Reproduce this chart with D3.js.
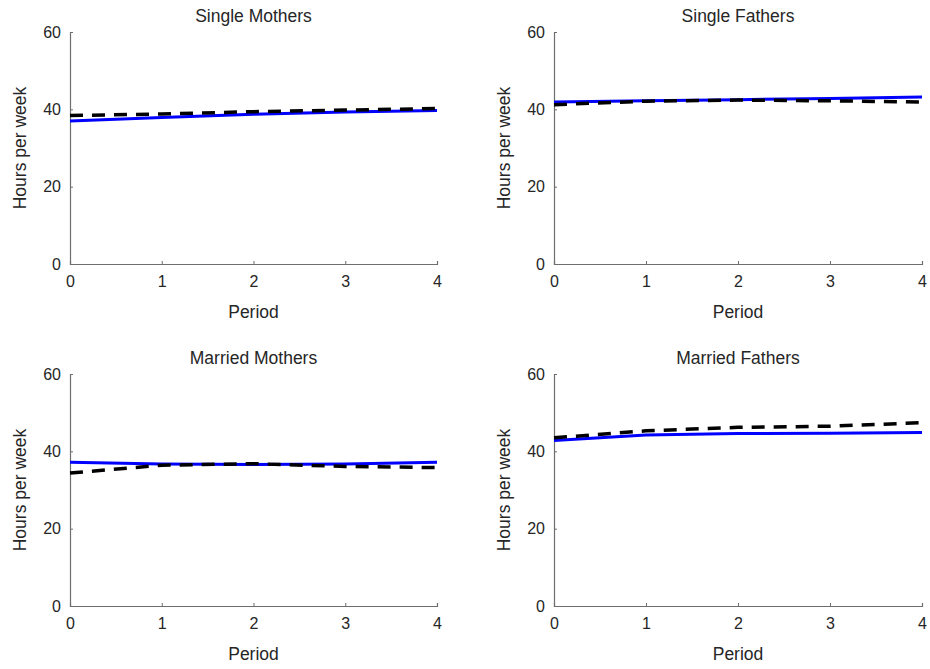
<!DOCTYPE html>
<html>
<head>
<meta charset="utf-8">
<script src="https://cdn.jsdelivr.net/npm/d3@7"></script>
<style>
  body { margin: 0; background: #fff; }
  text { font-family: "Liberation Sans", Arial, sans-serif; fill: #262626; }
</style>
</head>
<body>
<div id="chart"></div>
<script>
// Chart setup
const width = 930;
const height = 669;

// Data
const periods = [0, 1, 2, 3, 4];
const titles = ["Single Mothers", "Single Fathers", "Married Mothers", "Married Fathers"];
const blueSeries = [
  [37.0, 37.9, 38.7, 39.3, 39.7],
  [41.9, 42.2, 42.5, 42.8, 43.2],
  [37.2, 36.7, 36.6, 36.7, 37.2],
  [42.8, 44.2, 44.6, 44.7, 44.9]
];
const blackSeries = [
  [38.4, 38.8, 39.4, 39.8, 40.2],
  [41.2, 42.1, 42.4, 42.2, 41.9],
  [34.4, 36.4, 36.8, 36.1, 35.8],
  [43.5, 45.3, 46.2, 46.5, 47.4]
];
const xTicks = [0, 1, 2, 3, 4];
const yTicks = [0, 20, 40, 60];

// Panel boxes (left, right, top, bottom)
const panels = [
  { x0: 70, x1: 437, y0: 32, y1: 264 },
  { x0: 554, x1: 922, y0: 32, y1: 264 },
  { x0: 70, x1: 437, y0: 374, y1: 606 },
  { x0: 554, x1: 922, y0: 374, y1: 606 }
];

const svg = d3.select("#chart")
  .append("svg")
  .attr("width", width)
  .attr("height", height);

panels.forEach((p, i) => {
  const x = d3.scaleLinear().domain([0, 4]).range([p.x0, p.x1]);
  const y = d3.scaleLinear().domain([0, 60]).range([p.y1, p.y0]);
  const g = svg.append("g");

  // axes (MATLAB style: ticks point inward)
  const xAxis = d3.axisBottom(x).tickValues(xTicks).tickSize(-3).tickPadding(12).tickFormat(d3.format("d"));
  const yAxis = d3.axisLeft(y).tickValues(yTicks).tickSize(-3).tickPadding(9);

  const gx = g.append("g").attr("transform", `translate(0,${p.y1})`).call(xAxis);
  const gy = g.append("g").attr("transform", `translate(${p.x0},0)`).call(yAxis);

  [gx, gy].forEach(a => {
    a.select(".domain").attr("stroke", "#6e6e6e").attr("stroke-width", 1.2);
    a.selectAll(".tick line").attr("stroke", "#6e6e6e");
    a.selectAll(".tick text")
      .attr("fill", "#262626")
      .style("font-size", "16px")
      .style("font-family", "'Liberation Sans', Arial, sans-serif");
  });

  // lines
  const line = d3.line()
    .x((d, j) => x(periods[j]))
    .y(d => y(d));

  g.append("path")
    .datum(blueSeries[i])
    .attr("fill", "none")
    .attr("stroke", "#0000ff")
    .attr("stroke-width", 3)
    .attr("d", line);

  g.append("path")
    .datum(blackSeries[i])
    .attr("fill", "none")
    .attr("stroke", "#000")
    .attr("stroke-width", 3.5)
    .attr("stroke-dasharray", "13,9")
    .attr("d", line);

  // title
  g.append("text")
    .attr("x", (p.x0 + p.x1) / 2)
    .attr("y", p.y0 - 10)
    .attr("text-anchor", "middle")
    .style("font-size", "17.5px")
    .text(titles[i]);

  // x label
  g.append("text")
    .attr("x", (p.x0 + p.x1) / 2)
    .attr("y", p.y1 + 54)
    .attr("text-anchor", "middle")
    .style("font-size", "17.5px")
    .text("Period");

  // y label
  g.append("text")
    .attr("transform", `translate(${p.x0 - 44},${(p.y0 + p.y1) / 2}) rotate(-90)`)
    .attr("text-anchor", "middle")
    .style("font-size", "17.5px")
    .text("Hours per week");
});
</script>
</body>
</html>
